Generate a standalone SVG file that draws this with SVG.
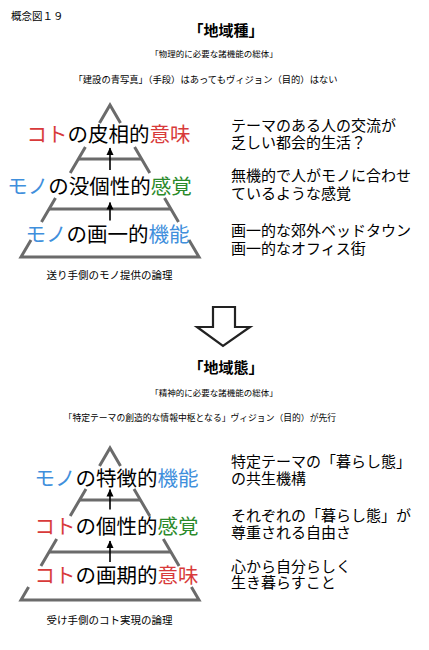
<svg xmlns="http://www.w3.org/2000/svg" width="429" height="650" viewBox="0 0 429 650">
<style>
text{font-family:"Noto Sans CJK JP","Noto Sans CJK SC",sans-serif;fill:#000}
.t{font-size:15px;font-weight:bold;text-anchor:middle}
.s{font-size:8.5px;text-anchor:middle}
.lv{font-size:20.5px;text-anchor:middle}
.r{font-size:15px}
.cap{font-size:10.5px}
.red{fill:#d83a3a}
.blu{fill:#3f8fdc}
.grn{fill:#2a8a2a}
.frame{fill:none;stroke:#6b6b6b;stroke-width:3;stroke-linejoin:miter}
.up{stroke:#000;stroke-width:1.6;marker-end:url(#ah)}
</style>
<defs>
<marker id="ah" markerWidth="8" markerHeight="8" refX="7" refY="4" orient="auto" markerUnits="userSpaceOnUse"><path d="M0,0.5 L7.5,4 L0,7.5 Z" fill="#000"/></marker>
</defs>
<rect width="429" height="650" fill="#fff"/>

<g id="header">
<text x="11" y="20" style="font-size:10.5px">概念図１９</text>
</g>

<g id="title-top">
<text class="t" x="226" y="36">「地域種」</text>
<text class="s" x="214" y="57">「物理的に必要な諸機能の総体」</text>
<text x="73.5" y="83" style="font-size:9.3px">「建設の青写真」（手段）はあってもヴィジョン（目的）はない</text>
</g>

<g id="pyramid-top-frame">
<path class="frame" d="M99.5,123 L110,105 L120.5,123"/>
<path class="frame" d="M85.4,147 L70.2,173 M134.6,147 L149.8,173"/>
<path class="frame" d="M55.5,198 L41.5,222 M164.5,198 L178.5,222"/>
<path class="frame" d="M31,240 L21,257 L199,257 L189,240"/>
<path class="frame" d="M78.4,159 H141.6 M49.1,209 H170.9"/>
</g>

<g id="top-level-1">
<text class="lv" x="108.5" y="142"><tspan class="red">コト</tspan>の皮相的<tspan class="red">意味</tspan></text>
</g>
<g id="top-level-2">
<text class="lv" x="99.5" y="193.5"><tspan class="blu">モノ</tspan>の没個性的<tspan class="grn">感覚</tspan></text>
</g>
<g id="top-level-3">
<text class="lv" x="107.5" y="241.5"><tspan class="blu">モノ</tspan>の画一的<tspan class="blu">機能</tspan></text>
</g>
<g id="top-caption">
<text class="cap" x="46.5" y="279">送り手側のモノ提供の論理</text>
</g>

<g id="top-notes">
<text class="r" x="231" y="131">テーマのある人の交流が</text>
<text class="r" x="231" y="147.5">乏しい都会的生活？</text>
<text class="r" x="231" y="181">無機的で人がモノに合わせ</text>
<text class="r" x="231" y="198.5">ているような感覚</text>
<text class="r" x="231" y="236">画一的な郊外ベッドタウン</text>
<text class="r" x="231" y="253.5">画一的なオフィス街</text>
</g>

<g id="transition-arrow">
<path d="M213,307 H235 V327 H250 L223,346 L197,327 H213 Z" fill="#fff" stroke="#222" stroke-width="2.2" stroke-linejoin="miter"/>
</g>

<g id="title-bottom">
<text class="t" x="226" y="373">「地域態」</text>
<text class="s" x="214" y="395.5">「精神的に必要な諸機能の総体」</text>
<text x="63.6" y="420.5" style="font-size:8.8px">「特定テーマの創造的な情報中枢となる」ヴィジョン（目的）が先行</text>
</g>

<g id="pyramid-bottom-frame">
<path class="frame" d="M99.5,466 L110,448 L120.5,466"/>
<path class="frame" d="M86,489 L70.2,516 M134,489 L149.8,516"/>
<path class="frame" d="M56.7,539 L40.9,566 M163.3,539 L179.1,566"/>
<path class="frame" d="M28.6,587 L21,600 L199,600 L191.4,587"/>
<path class="frame" d="M79.6,500 H140.4 M49.1,552 H170.9"/>
</g>

<g id="bottom-level-1">
<text class="lv" x="116.5" y="485.5"><tspan class="blu">モノ</tspan>の特徴的<tspan class="blu">機能</tspan></text>
</g>
<g id="bottom-level-2">
<text class="lv" x="116.5" y="533.5"><tspan class="red">コト</tspan>の個性的<tspan class="grn">感覚</tspan></text>
</g>
<g id="bottom-level-3">
<text class="lv" x="116.5" y="582.5"><tspan class="red">コト</tspan>の画期的<tspan class="red">意味</tspan></text>
</g>
<g id="bottom-caption">
<text class="cap" x="46.5" y="624">受け手側のコト実現の論理</text>
</g>

<g id="bottom-notes">
<text class="r" x="231" y="467">特定テーマの「暮らし態」</text>
<text class="r" x="231" y="484">の共生機構</text>
<text class="r" x="231" y="521">それぞれの「暮らし態」が</text>
<text class="r" x="231" y="537.5">尊重される自由さ</text>
<text class="r" x="231" y="572">心から自分らしく</text>
<text class="r" x="231" y="588">生き暮らすこと</text>
</g>

<g id="connectors">
<line class="up" x1="110" y1="170" x2="110" y2="148"/>
<line class="up" x1="110" y1="220.5" x2="110" y2="202.5"/>
<line class="up" x1="110" y1="509.5" x2="110" y2="489.5"/>
<line class="up" x1="110" y1="562" x2="110" y2="541"/>
</g>
</svg>
